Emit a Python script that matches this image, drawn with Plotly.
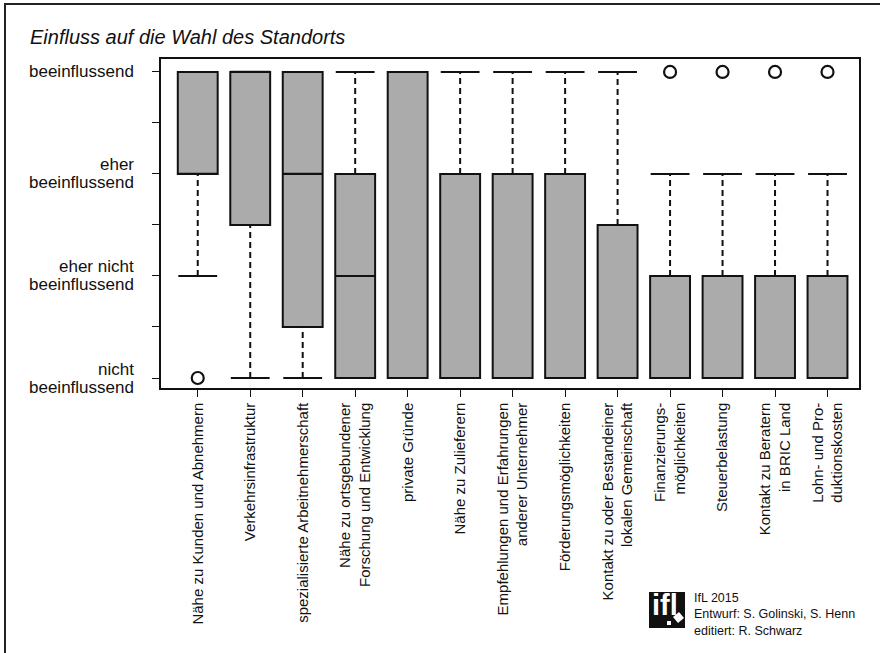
import plotly.graph_objects as go

# ---------------- data ----------------
categories = [
    "Nähe zu Kunden und Abnehmern",
    "Verkehrsinfrastruktur",
    "spezialisierte Arbeitnehmerschaft",
    "Nähe zu ortsgebundener<br>Forschung und Entwicklung",
    "private Gründe",
    "Nähe zu Zulieferern",
    "Empfehlungen und Erfahrungen<br>anderer Unternehmer",
    "Förderungsmöglichkeiten",
    "Kontakt zu oder Bestandeiner<br>lokalen Gemeinschaft",
    "Finanzierungs-<br>möglichkeiten",
    "Steuerbelastung",
    "Kontakt zu Beratern<br>in BRIC Land",
    "Lohn- und Pro-<br>duktionskosten",
]
lower_whisker = [2, 1, 1, 1, 1, 1, 1, 1, 1, 1, 1, 1, 1]
q1 =            [3, 2.5, 1.5, 1, 1, 1, 1, 1, 1, 1, 1, 1, 1]
median =        [3, 4, 3, 2, 1, 1, 1, 1, 1, 1, 1, 1, 1]
q3 =            [4, 4, 4, 3, 4, 3, 3, 3, 2.5, 2, 2, 2, 2]
upper_whisker = [4, 4, 4, 4, 4, 4, 4, 4, 4, 3, 3, 3, 3]
outliers =      [[1], [], [], [], [], [], [], [], [], [4], [4], [4], [4]]

y_tickvals = [1, 1.5, 2, 2.5, 3, 3.5, 4]
y_ticktext = ["nicht<br>beeinflussend", "", "eher nicht<br>beeinflussend", "",
              "eher<br>beeinflussend", "", "beeinflussend"]

title_text = "Einfluss auf die Wahl des Standorts"
credit_lines = ["IfL 2015", "Entwurf: S. Golinski, S. Henn", "editiert: R. Schwarz"]

# ---------------- layout constants ----------------
W, H = 880, 653
L, R, T, B = 161, 21, 59, 265
PW, PH = W - L - R, H - T - B
FONT = "Liberation Sans, Arial, Helvetica, sans-serif"
BOX_W = 0.76
CAP_W = 0.74
BOX_COLOR = "#ababab"
Y_LINE_GAP = 18


def px(xp):
    return (xp - L) / PW


def py(yp):
    return (H - B - yp) / PH


pos = list(range(1, len(categories) + 1))

fig = go.Figure()

# boxes (q1..q3)
fig.add_trace(go.Bar(
    x=pos, y=[b - a for a, b in zip(q1, q3)], base=q1, width=BOX_W,
    marker=dict(color=BOX_COLOR, line=dict(color="#111111", width=2)),
    hoverinfo="skip", showlegend=False,
))

# medians
mx, my = [], []
for p, m in zip(pos, median):
    mx += [p - BOX_W / 2, p + BOX_W / 2, None]
    my += [m, m, None]
fig.add_trace(go.Scatter(x=mx, y=my, mode="lines",
                         line=dict(color="#111111", width=2.2),
                         hoverinfo="skip", showlegend=False))

# whiskers (dashed) and caps
wx, wy, cx, cy = [], [], [], []
for p, lo, a, b, hi in zip(pos, lower_whisker, q1, q3, upper_whisker):
    if lo < a:
        wx += [p, p, None]
        wy += [lo, a, None]
        cx += [p - CAP_W / 2, p + CAP_W / 2, None]
        cy += [lo, lo, None]
    if hi > b:
        wx += [p, p, None]
        wy += [b, hi, None]
        cx += [p - CAP_W / 2, p + CAP_W / 2, None]
        cy += [hi, hi, None]
fig.add_trace(go.Scatter(x=wx, y=wy, mode="lines",
                         line=dict(color="#111111", width=2, dash="6px,4px"),
                         hoverinfo="skip", showlegend=False))
fig.add_trace(go.Scatter(x=cx, y=cy, mode="lines",
                         line=dict(color="#111111", width=2),
                         hoverinfo="skip", showlegend=False))

# outliers
ox, oy = [], []
for p, outs in zip(pos, outliers):
    for o in outs:
        ox.append(p)
        oy.append(o)
fig.add_trace(go.Scatter(x=ox, y=oy, mode="markers",
                         marker=dict(symbol="circle-open", size=12,
                                     color="#111111", line=dict(width=2.2)),
                         hoverinfo="skip", showlegend=False))

shapes = [
    # outer frame (left + top visible)
    dict(type="rect", xref="paper", yref="paper",
         x0=px(5), x1=px(W + 10), y0=py(H + 10), y1=py(4),
         line=dict(color="#222222", width=2), layer="below"),
    # logo square
    dict(type="rect", xref="paper", yref="paper",
         x0=px(649), x1=px(685), y0=py(628), y1=py(592),
         fillcolor="#111111", line=dict(width=0)),
    # small rotated white square in logo
    dict(type="path", xref="paper", yref="paper",
         path=f"M {px(673)} {py(617)} L {px(679)} {py(612)} L {px(684)} {py(618)} "
              f"L {px(678)} {py(623)} Z",
         fillcolor="white", line=dict(width=0)),
    # small white dot in logo
    dict(type="rect", xref="paper", yref="paper",
         x0=px(667), x1=px(671), y0=py(625), y1=py(621),
         fillcolor="white", line=dict(width=0)),
]

annotations = [
    dict(text=title_text, xref="paper", yref="paper", x=px(28), y=py(24),
         xanchor="left", yanchor="top", showarrow=False,
         font=dict(family=FONT, size=20, color="#111111", style="italic")),
    dict(text="<b>ifl</b>", xref="paper", yref="paper", x=px(650), y=py(587),
         xanchor="left", yanchor="top", showarrow=False,
         font=dict(family=FONT, size=29, color="white")),
    dict(text="<br>".join(credit_lines), xref="paper", yref="paper",
         x=px(692), y=py(589), xanchor="left", yanchor="top", align="left",
         showarrow=False, font=dict(family=FONT, size=12.5, color="#111111")),
]

# y tick labels (tighter line spacing than plotly's default multi-line labels)
for v, txt in zip(y_tickvals, y_ticktext):
    if not txt:
        continue
    lines = txt.split("<br>")
    n = len(lines)
    for k, ln in enumerate(lines):
        off = ((n - 1) / 2 - k) * Y_LINE_GAP
        annotations.append(dict(text=ln, xref="paper", yref="y", x=px(136), y=v,
                                yshift=off, xanchor="right", yanchor="middle",
                                showarrow=False,
                                font=dict(family=FONT, size=17, color="#111111")))

fig.update_layout(
    width=W, height=H,
    margin=dict(l=L, r=R, t=T, b=B, pad=0),
    paper_bgcolor="white", plot_bgcolor="white",
    barmode="overlay", showlegend=False,
    font=dict(family=FONT, color="#111111"),
    shapes=shapes, annotations=annotations,
    xaxis=dict(range=[0.3, 13.6], tickmode="array", tickvals=pos, ticktext=categories,
               tickangle=-90, ticks="outside", ticklen=7, tickwidth=1.2,
               tickcolor="#111111", showgrid=False, zeroline=False,
               showline=True, linecolor="#111111", linewidth=1.5, mirror=True,
               tickfont=dict(family=FONT, size=15, color="#111111")),
    yaxis=dict(range=[0.902, 4.127], tickmode="array", tickvals=y_tickvals,
               ticktext=[""] * len(y_tickvals), ticks="outside", ticklen=7,
               tickwidth=1.2, tickcolor="#111111", showgrid=False, zeroline=False,
               showline=True, linecolor="#111111", linewidth=1.5, mirror=True),
)

fig.write_html("out.html")
